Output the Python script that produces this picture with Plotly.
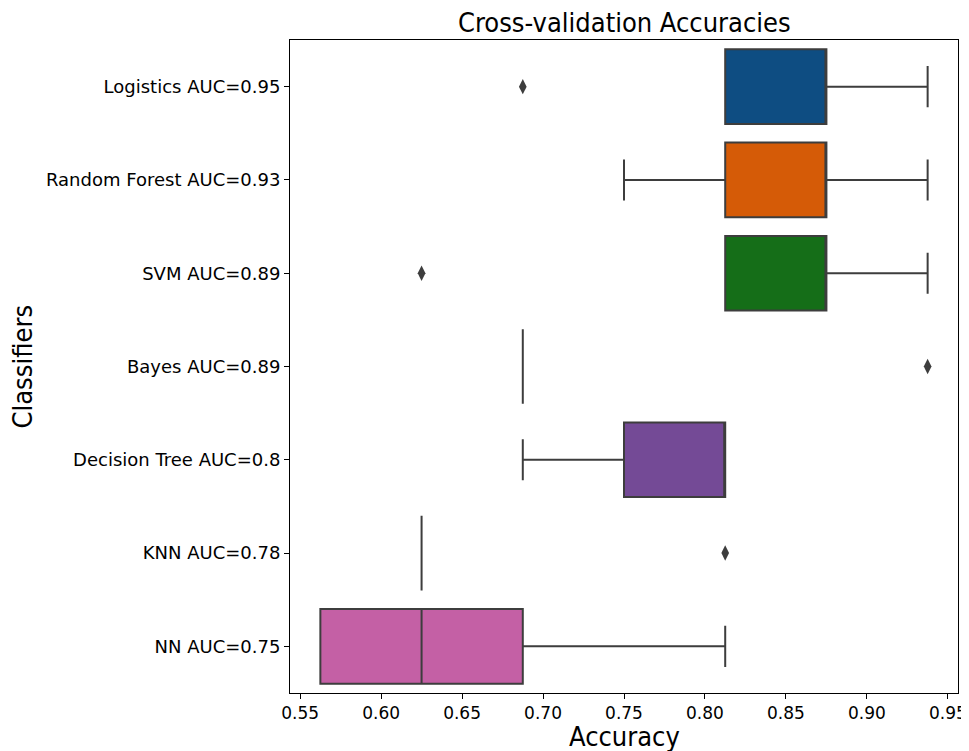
import plotly.graph_objects as go

categories = ["Logistics AUC=0.95", "Random Forest AUC=0.93", "SVM AUC=0.89",
              "Bayes AUC=0.89", "Decision Tree AUC=0.8", "KNN AUC=0.78", "NN AUC=0.75"]
q1 =      [0.8125, 0.8125, 0.8125, 0.6875, 0.75,   0.625, 0.5625]
median =  [0.875,  0.875,  0.875,  0.6875, 0.8125, 0.625, 0.625]
q3 =      [0.875,  0.875,  0.875,  0.6875, 0.8125, 0.625, 0.6875]
lower =   [0.8125, 0.75,   0.8125, 0.6875, 0.6875, 0.625, 0.5625]
upper =   [0.9375, 0.9375, 0.9375, 0.6875, 0.8125, 0.625, 0.8125]
outlier_cat = ["Logistics AUC=0.95", "SVM AUC=0.89", "Bayes AUC=0.89", "KNN AUC=0.78"]
outlier_val = [0.6875, 0.625, 0.9375, 0.8125]
colors = ["#0e4d82", "#d55b07", "#156e18", "#8c2a1a", "#744a96", "#6b4a2a", "#c460a5"]
xticks = [0.55, 0.60, 0.65, 0.70, 0.75, 0.80, 0.85, 0.90, 0.95]

fig = go.Figure()
for i, c in enumerate(categories):
    fig.add_trace(go.Box(
        y=[c], q1=[q1[i]], median=[median[i]], q3=[q3[i]],
        lowerfence=[lower[i]], upperfence=[upper[i]],
        orientation="h", fillcolor=colors[i],
        line=dict(color="#3d3d3d", width=2),
        width=0.8, whiskerwidth=0.55, boxpoints=False, showlegend=False,
    ))
fig.add_trace(go.Scatter(
    x=outlier_val, y=outlier_cat, mode="markers",
    marker=dict(symbol="diamond-tall", size=11, color="#3d3d3d"),
    showlegend=False,
))

# page body has an 8px margin, so the figure is offset by 8px
W, H = 961, 743
left, right, top, bot = 282, 11, 32, 58
pw, ph = W - left - right, H - top - bot

ytick_font = dict(family="DejaVu Sans", size=18, color="black")
xtick_font = dict(family="DejaVu Sans", size=17, color="black")
title_font = dict(family="DejaVu Sans Condensed, Open Sans", size=27, color="black")
fig.update_layout(
    width=W, height=H,
    margin=dict(l=left, r=right, t=top, b=bot, autoexpand=False),
    plot_bgcolor="white", paper_bgcolor="white",
    xaxis=dict(range=[0.54375, 0.95625], tickvals=xticks,
               ticktext=[f"{v:.2f}" for v in xticks], automargin=False,
               showgrid=False, zeroline=False, showline=True, linecolor="black",
               linewidth=1, mirror=True, ticks="outside", ticklen=5,
               tickcolor="black", tickfont=xtick_font),
    yaxis=dict(categoryorder="array", categoryarray=categories, automargin=False,
               range=[6.5, -0.5], showgrid=False, zeroline=False,
               showline=True, linecolor="black", linewidth=1, mirror=True,
               ticks="outside", ticklen=5, tickcolor="black", tickfont=ytick_font),
    annotations=[
        dict(text="Cross-validation Accuracies", x=0.5, xref="paper",
             y=1 + (top - 14) / ph, yref="paper",
             showarrow=False, font=title_font, xanchor="center", yanchor="middle"),
        dict(text="Accuracy", x=0.5, xref="paper",
             y=-(729 - (H - bot)) / ph, yref="paper",
             showarrow=False, font=title_font, xanchor="center", yanchor="middle"),
        dict(text="Classifiers", x=-(left - 14) / pw, xref="paper", y=0.5, yref="paper",
             showarrow=False, font=title_font, textangle=-90,
             xanchor="center", yanchor="middle"),
    ],
)
fig.write_html("out.html")
